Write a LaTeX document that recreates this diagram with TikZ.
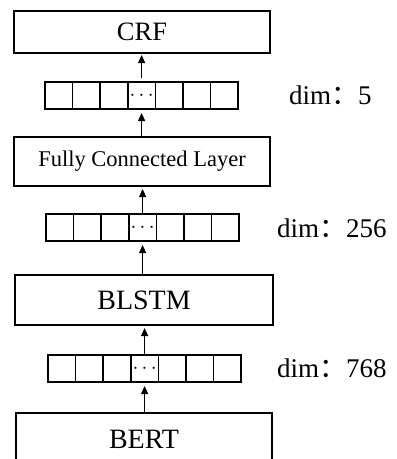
\documentclass[tikz,border=0pt]{standalone}
\usepackage{fontspec}
\setmainfont{Liberation Serif}
\newfontfamily\cjk{Noto Sans CJK SC}
\usetikzlibrary{arrows.meta}

\tikzset{
  layerbox/.style={draw, line width=1.6pt, inner sep=0pt, outer sep=0pt,
    minimum width=256pt, anchor=north west},
  cell/.style={draw, line width=1.5pt, inner sep=0pt, outer sep=0pt,
    minimum width=27.6pt, minimum height=27pt, anchor=north west,
    font=\fontsize{22}{24}\selectfont},
  flow/.style={line width=1.2pt, -{Triangle[length=8pt,width=7pt]}},
  dimlabel/.style={anchor=west, inner sep=0pt, font=\fontsize{27}{30}\selectfont},
}

% one feature vector: seven cells, the middle one holding an ellipsis
\newcommand{\featvec}[3]{% name, left x, top y
  \foreach \i in {1,...,7}{
    \node[cell] (#1c\i) at ({#2+(\i-1)*27.6},#3) {\ifnum\i=4 $\cdots$\fi};
  }
}

\begin{document}
\begin{tikzpicture}[x=1pt,y=-1pt]
\useasboundingbox (0,0) rectangle (397,459);
\clip (0,0) rectangle (397,459);

% layers
\node[layerbox, minimum height=42pt, font=\fontsize{26.5}{30}\selectfont] (crf) at (14,11) {CRF};
\node[layerbox, minimum height=49pt, font=\fontsize{22.5}{26}\selectfont] (fc) at (14,137) {Fully Connected Layer};
\node[layerbox, minimum height=50pt, minimum width=258pt, font=\fontsize{28}{30}\selectfont] (blstm) at (15,275) {BLSTM};
\node[layerbox, minimum height=52pt, font=\fontsize{28}{30}\selectfont] (bert) at (16,413) {BERT};

% feature vectors
\featvec{va}{45}{82}
\featvec{vb}{46}{214}
\featvec{vc}{48}{355}

% dimension labels
\node[dimlabel] (da) at (289,95) {dim{\cjk ：}5};
\node[dimlabel] (db) at (277,228) {dim{\cjk ：}256};
\node[dimlabel] (dc) at (277,368) {dim{\cjk ：}768};

% data flow, bottom to top
\draw[flow, shorten <=1pt, shorten >=4pt] (vcc4.south |- bert.north) -- (vcc4.south);
\draw[flow, shorten <=1pt, shorten >=3pt] (vcc4.north) -- (vcc4.north |- blstm.south);
\draw[flow, shorten <=1pt, shorten >=4pt] (vbc4.south |- blstm.north) -- (vbc4.south);
\draw[flow, shorten <=1pt, shorten >=3pt] (vbc4.north) -- (vbc4.north |- fc.south);
\draw[flow, shorten <=1pt, shorten >=4pt] (vac4.south |- fc.north) -- (vac4.south);
\draw[flow, shorten <=4pt, shorten >=2pt] (vac4.north) -- (vac4.north |- crf.south);
\end{tikzpicture}
\end{document}
